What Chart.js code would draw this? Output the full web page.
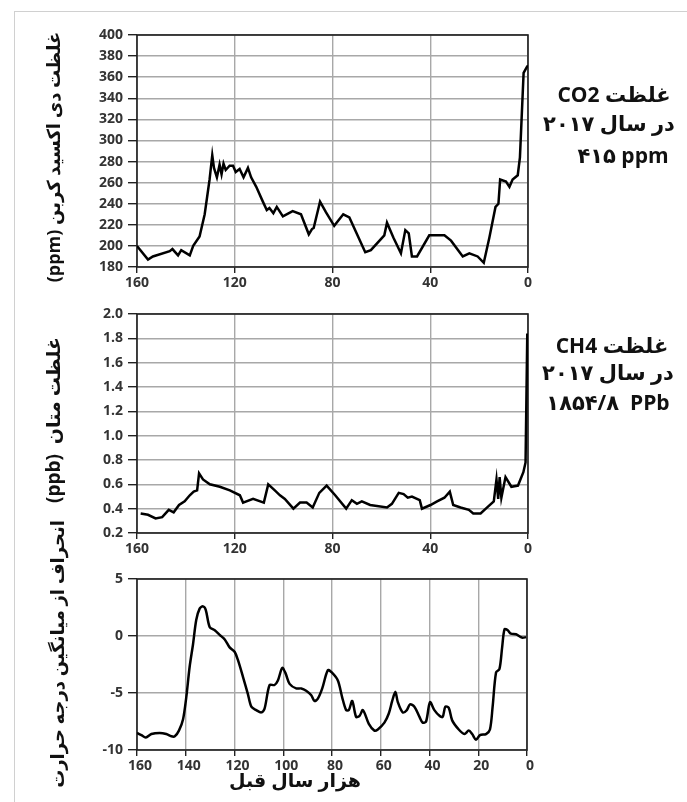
<!DOCTYPE html>
<html lang="fa">
<head>
<meta charset="utf-8">
<title>CO2 CH4 temperature</title>
<script src="https://cdn.jsdelivr.net/npm/chart.js@4.4.1/dist/chart.umd.min.js"></script>
<style>
  html, body { margin: 0; padding: 0; background: #fff; }
  body { position: relative; width: 687px; height: 802px; overflow: hidden; font-family: "Open Sans", "DejaVu Sans", sans-serif; }
  .frame { position: absolute; left: 14px; top: 11px; width: 720px; height: 820px; border: 1px solid #d0d0d0; }
  .panel { position: absolute; left: 0; width: 687px; }
  .ytitle { position: absolute; transform: translate(-50%, -50%) rotate(-90deg); white-space: pre; font-weight: bold; font-size: 18px; color: #111; }
  .note { position: absolute; transform: translate(-50%, -50%); white-space: pre; font-weight: bold; font-size: 21px; color: #111; }
  .xtitle { position: absolute; transform: translate(-50%, -50%); white-space: pre; font-weight: bold; font-size: 19px; color: #111; }
</style>
</head>
<body>
<div class="frame"></div>

<div class="panel" style="top:0;height:295px"><canvas id="co2Chart" width="687" height="295"></canvas></div>
<div class="panel" style="top:295px;height:265px"><canvas id="ch4Chart" width="687" height="265"></canvas></div>
<div class="panel" style="top:560px;height:242px"><canvas id="tempChart" width="687" height="242"></canvas></div>

<div class="ytitle" dir="rtl" style="left:53px;top:157px">غلظت دی اکسید کربن (ppm)</div>
<div class="ytitle" dir="rtl" style="left:53px;top:420px;font-size:19px">غلظت متان  (ppb)</div>
<div class="ytitle" dir="rtl" style="left:57px;top:654px">انحراف از میانگین درجه حرارت</div>

<div class="note" dir="rtl" style="left:614px;top:94px">غلظت CO2</div>
<div class="note" dir="rtl" style="left:609px;top:123px">در سال ۲۰۱۷</div>
<div class="note" dir="ltr" style="left:623px;top:155px">۴۱۵ ppm</div>

<div class="note" dir="rtl" style="left:612px;top:345px">غلظت CH4</div>
<div class="note" dir="rtl" style="left:608px;top:372px">در سال ۲۰۱۷</div>
<div class="note" dir="ltr" style="left:608px;top:402px">۱۸۵۴/۸  PPb</div>

<div class="xtitle" dir="rtl" style="left:295px;top:780px">هزار سال قبل</div>

<script>
// thousand years before present
const co2Years = [160, 155.5, 153.5, 146.6, 145.5, 143.2, 141.9, 138.4, 137, 134.4, 132.3, 130.3, 129.2, 128.5, 127.3, 126.2, 125.4, 124.6, 123.7, 122.1, 120.7, 119.6, 118, 116.4, 114.6, 113.3, 111.2, 108.5, 106.9, 105.8, 104.2, 102.8, 100.3, 96.3, 92.9, 89.7, 88.4, 87.7, 85.1, 82.7, 79.3, 75.6, 73.1, 66.6, 64.3, 58.8, 57.7, 55.1, 52, 50.2, 48.8, 47.5, 45.4, 40.4, 34.2, 31.5, 26.7, 24, 20.6, 18.1, 15.8, 13.3, 12.1, 11.4, 9, 7.6, 6.3, 4.2, 3.3, 1.8, 0.4, 0];
const co2Values = [200, 187, 190, 195, 197, 191, 196, 191, 200, 209, 230, 263, 286, 274, 265, 277, 268, 278, 272, 276, 276, 270, 273, 265, 274, 265, 256, 242, 234, 236, 231, 237, 228, 233, 230, 211, 216, 217, 242, 232, 219, 230, 227, 194, 196, 210, 222, 208, 193, 215, 212, 190, 190, 210, 210, 205, 190, 193, 190, 184, 208, 237, 240, 263, 261, 256, 263, 267, 284, 364, 370, 371];

const ch4Years = [158.5, 155.5, 152.4, 149.7, 147, 145, 142.8, 140.5, 138.4, 136.8, 135.4, 134.6, 133, 130.2, 126.1, 122, 117.9, 116.6, 112.5, 108.1, 106.3, 103.6, 101.5, 99.5, 96, 93.3, 90.6, 88.1, 85.4, 82.4, 78.9, 74.4, 72.1, 70, 68, 64.6, 57.7, 55.7, 52.9, 50.9, 49.2, 47.5, 44.3, 43.4, 39.9, 37.2, 34.2, 32, 30.6, 27.6, 24.2, 22.4, 19.4, 16.7, 14, 12.9, 12.2, 11.6, 10.9, 9.2, 6.8, 4.1, 1.9, 1, 0.3, 0];
const ch4Values = [0.36, 0.35, 0.32, 0.33, 0.39, 0.37, 0.43, 0.46, 0.51, 0.54, 0.55, 0.69, 0.64, 0.6, 0.58, 0.55, 0.51, 0.45, 0.48, 0.45, 0.6, 0.55, 0.51, 0.48, 0.4, 0.45, 0.45, 0.41, 0.53, 0.59, 0.51, 0.4, 0.47, 0.44, 0.46, 0.43, 0.41, 0.44, 0.53, 0.52, 0.49, 0.5, 0.47, 0.4, 0.43, 0.46, 0.49, 0.54, 0.43, 0.41, 0.39, 0.36, 0.36, 0.41, 0.46, 0.64, 0.48, 0.66, 0.49, 0.66, 0.58, 0.59, 0.7, 0.78, 1.83, 1.83];

const tempYears = [160, 158.2, 156.4, 154.1, 150.7, 148, 145.9, 144.5, 142.8, 141.1, 139.8, 138.4, 137, 135.7, 134.3, 132.9, 131.8, 130.2, 128.1, 126.1, 124, 122, 119.9, 118.6, 116.5, 114.5, 113.1, 111.1, 109, 107.7, 105.6, 103.6, 102.2, 100.4, 99, 97.4, 94.7, 92.6, 90.6, 88.5, 87.2, 85.8, 84, 81.7, 80.1, 77.6, 75.8, 74.2, 73.1, 71.7, 70.1, 68.7, 67.3, 64.9, 62.6, 61.2, 58.5, 56.7, 55.3, 54, 53, 51, 49.3, 48, 46.2, 44.1, 42.8, 41.4, 39.8, 38, 35.9, 34.6, 33.5, 32.1, 30.7, 28, 25.7, 23.9, 22.5, 20.9, 19.3, 16.8, 15.2, 14.1, 12.7, 11.3, 10.2, 9.2, 7.9, 6.6, 4.5, 2.5, 1.8, 0.4];
const tempValues = [-8.5, -8.7, -8.9, -8.6, -8.5, -8.6, -8.8, -8.8, -8.3, -7.3, -5.4, -2.7, -0.7, 1.4, 2.4, 2.6, 2.3, 0.8, 0.5, 0.1, -0.3, -1, -1.4, -2.1, -3.6, -5.1, -6.2, -6.5, -6.7, -6.4, -4.3, -4.3, -3.9, -2.8, -3.3, -4.2, -4.6, -4.6, -4.8, -5.2, -5.7, -5.5, -4.6, -3, -3.2, -3.9, -5.4, -6.5, -6.5, -5.7, -7.1, -7, -6.5, -7.7, -8.3, -8.2, -7.6, -6.8, -5.7, -4.9, -5.8, -6.7, -6.5, -6, -6.2, -7.1, -7.6, -7.5, -5.8, -6.5, -7, -7.1, -6.2, -6.3, -7.4, -8.2, -8.6, -8.3, -8.6, -9.1, -8.7, -8.6, -8.2, -6.2, -3.2, -2.9, -1, 0.6, 0.5, 0.2, 0.15, -0.1, -0.15, -0.1];

const co2Ticks = [180, 200, 220, 240, 260, 280, 300, 320, 340, 360, 380, 400];
const ch4Ticks = [0.2, 0.4, 0.6, 0.8, 1.0, 1.2, 1.4, 1.6, 1.8, 2.0];
const tempTicks = [-10, -5, 0, 5];
const yearTicksCoarse = [0, 40, 80, 120, 160];
const yearTicksFine = [0, 20, 40, 60, 80, 100, 120, 140, 160];

const tickFont = { family: "Open Sans", weight: "bold", size: 14 };

// dark box round the plot area
const framePlugin = {
    id: "frame",
    beforeDatasetsDraw(chart) {
        const { ctx, chartArea: a } = chart;
        ctx.save();
        ctx.strokeStyle = "#1e1e1e";
        ctx.lineWidth = 1.6;
        ctx.strokeRect(a.left, a.top, a.right - a.left, a.bottom - a.top);
        ctx.restore();
    }
};

function makeChart(id, years, values, opts) {
    const ctx = document.getElementById(id).getContext("2d");
    return new Chart(ctx, {
        type: "line",
        data: {
            datasets: [{
                data: years.map((x, i) => ({ x: x, y: values[i] })),
                borderColor: "#000",
                borderWidth: 2.5,
                pointRadius: 0,
                tension: opts.tension || 0,
                fill: false
            }]
        },
        options: {
            animation: false,
            responsive: false,
            devicePixelRatio: 1,
            layout: { padding: { left: 20, right: opts.right, top: opts.top, bottom: 0 } },
            plugins: { legend: { display: false }, tooltip: { enabled: false } },
            scales: {
                x: {
                    type: "linear",
                    reverse: true,
                    min: 0,
                    max: 160,
                    afterBuildTicks: s => { s.ticks = opts.xTicks.map(v => ({ value: v })); },
                    afterFit: s => { s.height = opts.xHeight; },
                    grid: { color: "#a8a8a8", lineWidth: 1.4, tickLength: 6, tickColor: "#222", tickWidth: 1.4 },
                    border: { display: false },
                    ticks: { color: "#333", font: tickFont, padding: 2, maxRotation: 0, autoSkip: false, labelOffset: opts.labelOffset || 0 }
                },
                y: {
                    min: opts.yTicks[0],
                    max: opts.yTicks[opts.yTicks.length - 1],
                    afterBuildTicks: s => { s.ticks = opts.yTicks.map(v => ({ value: v })); },
                    afterFit: s => { s.width = 117; },
                    grid: { color: "#a8a8a8", lineWidth: 1.4, tickLength: 9, tickColor: "#222", tickWidth: 1.4 },
                    border: { display: false },
                    ticks: { color: "#333", font: tickFont, padding: 5, autoSkip: false, callback: opts.yFormat }
                }
            }
        },
        plugins: [framePlugin]
    });
}

makeChart("co2Chart", co2Years, co2Values, {
    top: 35, right: 159, xHeight: 28,
    xTicks: yearTicksCoarse, yTicks: co2Ticks,
    yFormat: v => String(v)
});

makeChart("ch4Chart", ch4Years, ch4Values, {
    top: 19, right: 159, xHeight: 27,
    xTicks: yearTicksCoarse, yTicks: ch4Ticks,
    yFormat: v => v.toFixed(1)
});

makeChart("tempChart", tempYears, tempValues, {
    top: 19, right: 160, xHeight: 52, tension: 0.3, labelOffset: 3,
    xTicks: yearTicksFine, yTicks: tempTicks,
    yFormat: v => String(v)
});
</script>
</body>
</html>
